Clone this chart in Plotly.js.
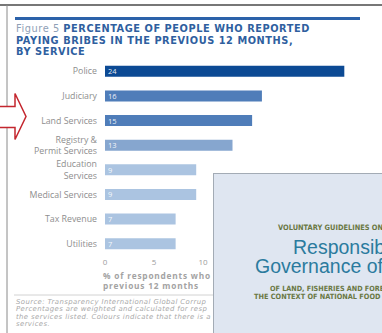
<!DOCTYPE html>
<html>
<head>
<meta charset="utf-8">
<script src="https://cdn.plot.ly/plotly-3.0.1.min.js"></script>
<style>html,body{margin:0;padding:0;background:#fff;}#chart{width:382px;height:333px;}</style>
</head>
<body>
<div id="chart"></div>
<script>
// ---- data ----
const categories = ["Police", "Judiciary", "Land Services", "Registry &<br>Permit Services",
  "Education<br>Services", "Medical Services", "Tax Revenue", "Utilities"];
const values = [24.4, 16, 15, 13, 9.3, 9.3, 7.2, 7.2];
const valueLabels = ["24", "16", "15", "13", "9", "9", "7", "7"];
const barColors = ["#0c4a94", "#4f7db9", "#4f7db9", "#86a6cf", "#abc4e1", "#abc4e1", "#abc4e1", "#abc4e1"];
const xTicks = [0, 5, 10];

// ---- geometry helpers ----
const W = 382, H = 333;
const M = {l: 105, r: 22, t: 59, b: 77};
const PW = W - M.l - M.r, PH = H - M.t - M.b;
const px = x => (x - M.l) / PW;
const py = y => (H - M.b - y) / PH;

const trace = {
  type: "bar", orientation: "h",
  y: categories, x: values,
  text: valueLabels, textposition: "inside", insidetextanchor: "start", textangle: 0,
  textfont: {family: "Open Sans", size: 7.5, color: "rgba(255,255,255,0.9)"},
  constraintext: "none",
  marker: {color: barColors, line: {width: 0}},
  hoverinfo: "skip"
};

function ann(text, x, y, opts) {
  return Object.assign({text: text, xref: "paper", yref: "paper", x: px(x), y: py(y),
    xanchor: "left", yanchor: "middle", showarrow: false, align: "left"}, opts || {});
}
const ls = (t, s) => "<span style='letter-spacing:" + s + "px'>" + t + "</span>";

const titleFont = {family: "DejaVu Sans", size: 9.8, color: "#2f5f9f"};
const srcFont = {family: "DejaVu Sans", size: 6.9, color: "#a8a8a8"};
const axisTitleFont = {family: "Open Sans", size: 8.3, color: "#a3a3a3"};
const coverOlive = {family: "DejaVu Sans Condensed, Roboto, sans-serif", size: 7.4, color: "#6a7844"};
const coverTeal = {family: "Liberation Sans", size: 19.5, color: "#2b7b9e"};

const annotations = [
  ann(ls("<span style='color:#8fa0b6;font-weight:normal'>Figure 5</span> <b>PERCENTAGE OF PEOPLE WHO REPORTED</b>", 0.55), 14, 28.5, {font: titleFont}),
  ann(ls("<b>PAYING BRIBES IN THE PREVIOUS 12 MONTHS,</b>", 0.55), 14, 40, {font: titleFont}),
  ann(ls("<b>BY SERVICE</b>", 0.55), 14, 51.5, {font: titleFont}),
  ann(ls("<b>% of respondents who</b>", 0.8), 101, 275.5, {font: axisTitleFont}),
  ann(ls("<b>previous 12 months</b>", 0.8), 101, 285.8, {font: axisTitleFont}),
  ann(ls("<i>Source: Transparency International Global Corrup</i>", 0.4), 14, 302, {font: srcFont}),
  ann(ls("<i>Percentages are weighted and calculated for resp</i>", 0.4), 14, 309.3, {font: srcFont}),
  ann(ls("<i>the services listed. Colours indicate that there is a</i>", 0.4), 14, 316.6, {font: srcFont}),
  ann(ls("<i>services.</i>", 0.4), 14, 323.9, {font: srcFont}),
  // overlaid report cover
  ann(" ", 213, 173, {yanchor: "top", width: 220, height: 200, bgcolor: "#dfe6f1",
    bordercolor: "#a3abb5", borderwidth: 1, borderpad: 0}),
  ann("<b>VOLUNTARY GUIDELINES ON</b>", 276, 227, {font: coverOlive}),
  ann("Responsible", 291, 246.5, {font: coverTeal}),
  ann("Governance of", 253, 265.5, {font: coverTeal}),
  ann("<b>OF LAND, FISHERIES AND FORESTS</b>", 268, 288, {font: Object.assign({}, coverOlive, {size: 7.2})}),
  ann("<b>THE CONTEXT OF NATIONAL FOOD</b>", 252, 296.5, {font: Object.assign({}, coverOlive, {size: 7.3})})
];

const arrowPts = [[-3, 106.5], [15, 106.5], [15, 93.5], [26, 116.5], [15, 139.5], [15, 127.5], [-3, 127.5]];
const arrowPath = "M" + arrowPts.map(p => px(p[0]) + "," + py(p[1])).join(" L") + " Z";

const shapes = [
  {type: "line", xref: "paper", yref: "paper", x0: px(0), x1: px(382), y0: py(5), y1: py(5), line: {color: "#4a4a4a", width: 1.5}, layer: "above"},
  {type: "line", xref: "paper", yref: "paper", x0: px(7), x1: px(7), y0: py(5), y1: py(333), line: {color: "#8a8a8a", width: 1}, layer: "above"},
  {type: "line", xref: "paper", yref: "paper", x0: px(15), x1: px(360), y0: py(18.5), y1: py(18.5), line: {color: "#2c62aa", width: 3}, layer: "above"},
  {type: "line", xref: "paper", yref: "paper", x0: px(14), x1: px(382), y0: py(295), y1: py(295), line: {color: "#d2d2d2", width: 1}, layer: "above"},
  {type: "path", xref: "paper", yref: "paper", path: arrowPath, fillcolor: "#ffffff", line: {color: "#c4262e", width: 1.5}, layer: "above"}
];

const layout = {
  width: W, height: H,
  margin: M,
  paper_bgcolor: "#ffffff", plot_bgcolor: "#ffffff",
  showlegend: false,
  bargap: 0.55,
  xaxis: {range: [0, 26], tickvals: xTicks, ticks: "", showgrid: false, zeroline: false, showline: false,
    tickfont: {family: "Open Sans", size: 8, color: "#9c9c9c"}, fixedrange: true},
  yaxis: {type: "category", categoryarray: categories, autorange: "reversed", ticks: "", showgrid: false,
    zeroline: false, showline: false, ticklabelstandoff: 7,
    tickfont: {family: "Open Sans", size: 8.8, color: "#8e8e8e"}, fixedrange: true},
  annotations: annotations,
  shapes: shapes
};

Plotly.newPlot("chart", [trace], layout, {staticPlot: true, displayModeBar: false});
</script>
</body>
</html>
